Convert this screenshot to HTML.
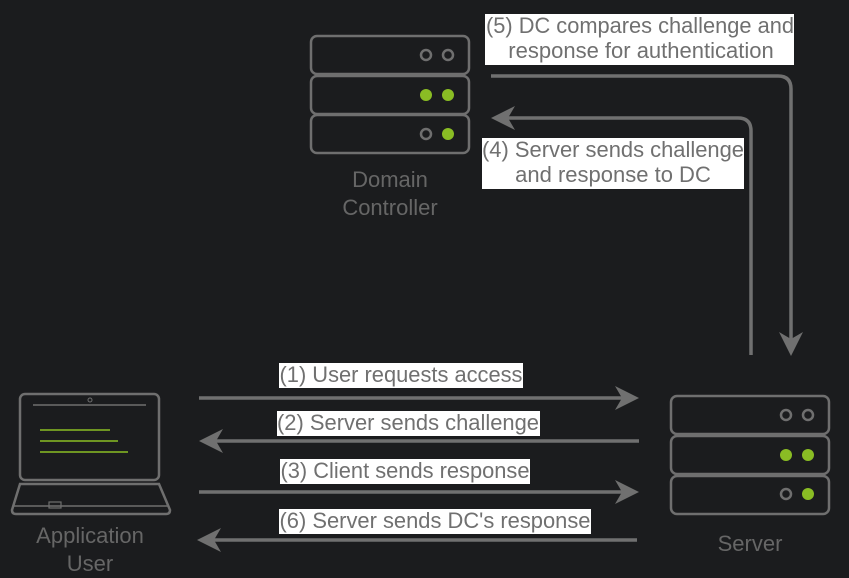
<!DOCTYPE html>
<html><head><style>
html,body{margin:0;padding:0;background:#1b1c1e;}
svg{display:block;}
text{font-family:"Liberation Sans",sans-serif;font-size:22px;}
</style></head><body>
<svg width="849" height="578" viewBox="0 0 849 578" xmlns="http://www.w3.org/2000/svg">
<rect width="849" height="578" fill="#1b1c1e"/>
<g fill="none" stroke="#6f6f6f" stroke-width="2.5">
<rect x="311" y="36" width="158" height="38" rx="6"/>
<rect x="311" y="76" width="158" height="38" rx="6"/>
<rect x="311" y="115" width="158" height="38" rx="6"/>
<circle cx="426" cy="55" r="5"/><circle cx="448" cy="55" r="5"/>
<circle cx="426" cy="134" r="5"/>
<rect x="671" y="396" width="158" height="38" rx="6"/>
<rect x="671" y="436" width="158" height="38" rx="6"/>
<rect x="671" y="476" width="158" height="38" rx="6"/>
<circle cx="786" cy="415" r="5"/><circle cx="808" cy="415" r="5"/>
<circle cx="786" cy="494" r="5"/>
<rect x="20" y="394" width="139" height="86" rx="5"/>
<path d="M20 484 L159 484 L170 510 Q170 514 166 514 L16 514 Q12 514 12 510 Z"/>
<path d="M14 506 L168 506" stroke-width="1.5"/>
<rect x="49" y="502" width="12" height="6" stroke-width="1.2"/>
<circle cx="90" cy="400" r="2" stroke-width="1"/>
<line x1="33" y1="405" x2="146" y2="405" stroke-width="1.5"/>
</g>
<g fill="#8abd24">
<circle cx="426" cy="95" r="6"/><circle cx="448" cy="95" r="6"/><circle cx="448" cy="134" r="6"/>
<circle cx="786" cy="455" r="6"/><circle cx="808" cy="455" r="6"/><circle cx="808" cy="494" r="6"/>
</g>
<g stroke="#8abd24" stroke-width="1.5">
<line x1="40" y1="430" x2="110" y2="430"/>
<line x1="40" y1="441" x2="118" y2="441"/>
<line x1="40" y1="452" x2="128" y2="452"/>
</g>
<g stroke="#707070" stroke-width="3.5" fill="none">
<line x1="199" y1="398" x2="628" y2="398"/>
<line x1="639" y1="441" x2="210" y2="441"/>
<line x1="199" y1="492" x2="628" y2="492"/>
<line x1="637" y1="540" x2="208" y2="540"/>
<path d="M491 76 L778 76 Q791 76 791 89 L791 342"/>
<path d="M751 355 L751 131 Q751 118 738 118 L503 118"/>
</g>
<g fill="#707070">
<path d="M639 398 L615 386 L622 398 L615 410 Z"/>
<path d="M199 441 L223 429 L216 441 L223 453 Z"/>
<path d="M639 492 L615 480 L622 492 L615 504 Z"/>
<path d="M197 540 L221 528 L214 540 L221 552 Z"/>
<path d="M791 356 L779 332 L791 339 L803 332 Z"/>
<path d="M491 118 L515 106 L508 118 L515 130 Z"/>
</g>
<g fill="#fff">
<rect x="485" y="14" width="309" height="51"/>
<rect x="482" y="138" width="262" height="51"/>
<rect x="279" y="363" width="244" height="25"/>
<rect x="277" y="411" width="263" height="25"/>
<rect x="280" y="459" width="250" height="25"/>
<rect x="279" y="509" width="312" height="25"/>
</g>
<g fill="#707070" text-anchor="middle">
<text x="640" y="33" textLength="308" lengthAdjust="spacingAndGlyphs">(5) DC compares challenge and</text>
<text x="641" y="58">response for authentication</text>
<text x="613" y="157" textLength="262" lengthAdjust="spacingAndGlyphs">(4) Server sends challenge</text>
<text x="613" y="182">and response to DC</text>
<text x="401" y="382" textLength="243" lengthAdjust="spacingAndGlyphs">(1) User requests access</text>
<text x="408" y="430" textLength="262" lengthAdjust="spacingAndGlyphs">(2) Server sends challenge</text>
<text x="405" y="478" textLength="249" lengthAdjust="spacingAndGlyphs">(3) Client sends response</text>
<text x="435" y="528" textLength="311" lengthAdjust="spacingAndGlyphs">(6) Server sends DC's response</text>
</g>
<g fill="#666" text-anchor="middle" style="font-size:24px">
<text x="390" y="187">Domain</text>
<text x="390" y="215">Controller</text>
<text x="90" y="543">Application</text>
<text x="90" y="571">User</text>
<text x="750" y="551">Server</text>
</g>
</svg>
</body></html>
